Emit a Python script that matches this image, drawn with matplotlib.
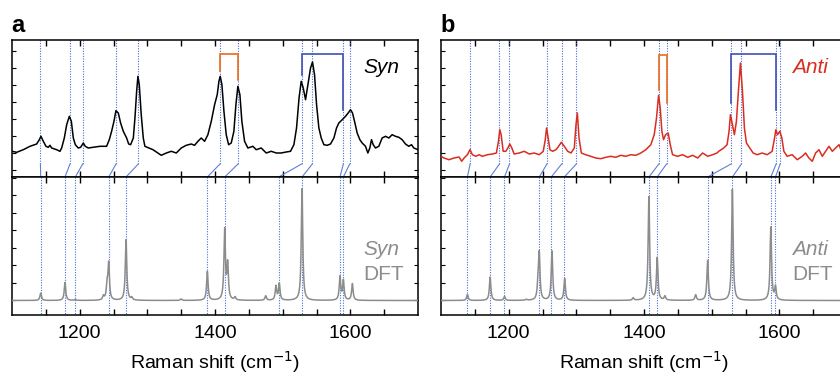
import numpy as np
import matplotlib
matplotlib.use("Agg")
import matplotlib.pyplot as plt

plt.rcParams['font.family'] = ['Liberation Sans', 'DejaVu Sans']

# experimental spectra (Raman shift, intensity in a.u.)
exp_a_x = [1100, 1106.9, 1116.7, 1126.6, 1136.4, 1140.4, 1142.8, 1146.3, 1150.2, 1153.6, 1156.1, 1158.6,
           1166, 1170.9, 1173.4, 1177.3, 1180.8, 1184.7, 1187.7, 1190.6, 1193.6, 1197.9, 1201.4, 1205.4,
           1208.3, 1212.7, 1220.1, 1230, 1239.8, 1243.8, 1247.2, 1250.7, 1253.6, 1257.1, 1260.5, 1264.5,
           1267, 1269.4, 1272.4, 1275.3, 1279.3, 1281.7, 1284.2, 1286.1, 1288.1, 1291, 1294, 1296.4, 1299.9,
           1308.3, 1315.7, 1320.6, 1328.1, 1335.4, 1342.8, 1350.1, 1357.5, 1364.9, 1369.8, 1374.8, 1379.7,
           1384.6, 1389.5, 1394.5, 1399.4, 1403.3, 1405.8, 1407.7, 1410.2, 1413.2, 1416.6, 1420.1, 1424,
           1427.9, 1430.9, 1433.8, 1436.8, 1439.7, 1443.7, 1448.6, 1456, 1460.9, 1468.3, 1475.7, 1483.1,
           1490.5, 1497.8, 1505.2, 1511.6, 1516.6, 1520.5, 1524.2, 1527.4, 1530.4, 1533.8, 1537.3, 1541.2,
           1544.1, 1547.1, 1550.1, 1553.5, 1557, 1560.9, 1565.8, 1570.7, 1575.7, 1579.6, 1583, 1588, 1592.9,
           1596.8, 1600.3, 1603.2, 1606.2, 1610.1, 1614.1, 1617.5, 1622.4, 1625.9, 1628.8, 1631.3, 1633.8,
           1637.2, 1642.1, 1647, 1652, 1656.9, 1661.8, 1666.7, 1671.7, 1676.6, 1681.5, 1686.4, 1690.4,
           1693.8, 1700]
exp_a_y = [25.7, 24.7, 27.3, 30.7, 33, 37.3, 40.7, 35.7, 30.7, 29.7, 31.7, 29,
           27.3, 25.7, 29, 39, 52.3, 60.7, 55.7, 39, 32.3, 29, 29.7, 34,
           30.7, 29, 29.7, 30.7, 30.7, 37.3, 45.7, 55.7, 66.3, 64, 54, 45.7,
           42.3, 39, 33, 32.3, 39, 59, 85.7, 100.7, 92.3, 62.3, 39, 30.7, 29.7,
           27.3, 24, 21.7, 24, 25.7, 24, 29, 31.7, 33, 31.7, 35.7, 39,
           35.7, 42.3, 55.7, 72.3, 82.3, 95.7, 100.7, 92.3, 65.7, 42.3, 32.3, 34,
           45.7, 72.3, 90.7, 82.3, 55.7, 35.7, 29, 30.7, 27.3, 29, 24, 25.7,
           24, 24, 25, 25.7, 32.3, 49, 79, 95.7, 89, 77.3, 92.3, 109,
           115, 102.3, 72.3, 49, 39, 32.3, 31.7, 33, 39, 49, 54, 57.3, 60.7,
           64, 67.3, 64, 55.7, 44, 37.3, 34, 30.7, 24, 29, 37.3, 32.3,
           29, 30.7, 39, 40.7, 39, 42.3, 40.7, 39.7, 37.3, 33, 30.7, 32.3,
           29, 27.3]

exp_b_x = [1100, 1104.4, 1111.9, 1119.3, 1126.7, 1130.6, 1134.1, 1139, 1142.9, 1146.4, 1151.4, 1156.3,
           1161.2, 1168.6, 1176, 1181.9, 1184.9, 1186.9, 1188.9, 1191.9, 1195.8, 1198.8, 1201.7, 1204.7,
           1208.1, 1215.6, 1223, 1230.4, 1237.8, 1245.2, 1251.1, 1254.1, 1256, 1258, 1261, 1264.9, 1269.9,
           1273.8, 1277.8, 1282.2, 1287.2, 1292.1, 1297, 1299.5, 1301.5, 1304, 1307.4, 1313.8, 1321.3,
           1328.7, 1336.1, 1343.5, 1350.9, 1358.3, 1365.7, 1373.1, 1380.5, 1387.9, 1395.3, 1402.7, 1410.1,
           1415.1, 1418.5, 1421.5, 1424, 1426.4, 1428.9, 1431.9, 1435.8, 1438.8, 1442.2, 1449.6, 1457,
           1464.5, 1471.9, 1479.3, 1486.7, 1494.1, 1501.5, 1507.9, 1510.4, 1517.8, 1522.8, 1525.7, 1527.7,
           1530.2, 1533.6, 1536.6, 1539.5, 1542.5, 1545.5, 1548.4, 1551.4, 1556.3, 1561.3, 1567.2, 1574.6,
           1582, 1589.4, 1592.9, 1594.9, 1597.3, 1600.8, 1603.7, 1606.7, 1611.6, 1619, 1626.5, 1633.9,
           1638.8, 1643.7, 1648.7, 1653.6, 1658.6, 1663.5, 1668.4, 1673.4, 1678.3, 1683.2, 1688.2, 1691,
           1700]
exp_b_y = [20.7, 19, 17.3, 19, 20, 15.7, 19, 22.3, 27.3, 22.3, 20.7, 22.3,
           20.7, 22.3, 23, 24, 35.7, 47.3, 42.3, 25.7, 25.7, 29, 33, 29,
           23, 24, 25.7, 23, 24, 22.3, 25.7, 37.3, 49, 40.7, 27.3, 25.7, 27.3,
           30.7, 34.7, 30.7, 25.7, 24, 29, 52.3, 64, 39, 24, 22.3, 20.7,
           19, 18.3, 19.7, 20.7, 19.7, 21.7, 20.7, 22.3, 21.7, 24, 27.3, 32.3,
           42.3, 59, 81.7, 69, 45.7, 37.3, 42.3, 44, 32.3, 22.3, 20.7, 22.3,
           19.7, 21.7, 19, 24, 20.7, 22.3, 24, 25.7, 29, 32.3, 45.7, 62.3,
           54, 42.3, 55.7, 85.7, 114, 85.7, 49, 34, 29, 24, 22.3, 24,
           22.3, 25.7, 39, 47.3, 42.3, 45.7, 39, 25.7, 20.7, 22.3, 17.3, 20.7,
           24, 19, 15.7, 24, 27.3, 20.7, 25.7, 30.7, 25.7, 29, 32.3, 27.3,
           28]

# DFT modes (position, relative intensity)
dft_a_pos = [1142.4, 1178.3, 1193.6, 1235, 1240.5, 1242.9, 1268.5, 1277, 1349.8, 1388.7, 1414.3, 1418.7,
             1429.6, 1474.9, 1490.1, 1495, 1528.6, 1584.7, 1589.7, 1603]
dft_a_int = [7.4, 18, 1, 4, 14, 36, 60.7, 2.5, 1.5, 29, 70, 35,
             3, 4.5, 14, 16.5, 111.7, 23.5, 19.5, 16.7]
dft_b_pos = [1139, 1172.6, 1193.8, 1226, 1243.5, 1245.2, 1264, 1282.7, 1384, 1407.2, 1419.5, 1430.9,
             1476.3, 1494, 1530.6, 1587.4, 1594.3]
dft_b_int = [6, 23.3, 4, 1, 15, 44, 49.3, 21.7, 2.5, 103.3, 42, 4,
             5.5, 40, 111, 73, 13]

# assignment lines: experiment -> DFT
exp_a_lines = [1142, 1185.7, 1204.4, 1253.7, 1286.7, 1407.4, 1434, 1528, 1543.8, 1589.7, 1599]
dft_a_lines = [1142.4, 1178.3, 1193.6, 1242.9, 1268.5, 1388.7, 1414.3, 1494.1, 1528.6, 1584.7, 1589.7]
exp_b_lines = [1143, 1186.4, 1201.2, 1256.5, 1278.3, 1300, 1422, 1433.3, 1528.6, 1544, 1595.3, 1601.2]
dft_b_lines = [1139, 1172.6, 1193.8, 1245.2, 1263, 1282.2, 1407.2, 1419.5, 1494, 1530.6, 1587.4, 1594.3]

# brackets: (x left, x right, top, left end, right end)
orange_a = (1407.4, 1434, 123, 105.7, 97.3)
blue_a = (1528, 1589.7, 123, 102.3, 67.3)
orange_b = (1422, 1433.3, 121.7, 87.3, 74)
blue_b = (1528.6, 1595.3, 123, 74, 67.3)

DOT = '#4a6fcf'
LINK = '#5f80d4'
ORANGE = '#ec6a1e'
BLUE = '#3f4fb5'
GRAY = '#8c8c8c'
RED = '#d92d20'


def dft_curve(x, pos, inten, w=2.6, base=14.5):
    y = np.full_like(x, base)
    for p, i in zip(pos, inten):
        y += i * (w / 2) ** 2 / ((x - p) ** 2 + (w / 2) ** 2)
    return y


def style_axes(ax, labels):
    ax.set_xlim(1100, 1700)
    ax.set_xticks([1200, 1400, 1600])
    ax.set_xticks(np.arange(1150, 1700, 50), minor=True)
    ax.tick_params(which='both', direction='in', top=True, right=True, length=4, width=1.0,
                   labelsize=14, pad=7)
    ax.tick_params(axis='y', which='both', left=True, right=True, length=3, width=0.8,
                   labelleft=False)
    if not labels:
        ax.tick_params(axis='x', labelbottom=False)
    for s in ax.spines.values():
        s.set_linewidth(1.1)


def bracket(ax, b, color):
    x0, x1, top, y0, y1 = b
    ax.plot([x0, x0, x1, x1], [y0, top, top, y1], color=color, lw=1.2, solid_joinstyle='miter')


def panel(x0, exp_x, exp_y, color, name, dft_pos, dft_int, exp_lines, dft_lines, br_o, br_b, letter):
    W, H = 840, 374
    top = fig.add_axes([x0 / W, (H - 177) / H, 406 / W, 137 / H])
    bot = fig.add_axes([x0 / W, (H - 315) / H, 406 / W, 138 / H])

    top.plot(exp_x, exp_y, color=color, lw=1.1, zorder=3)
    top.set_ylim(0, 137)
    top.set_yticks(np.arange(7, 137, 17))
    style_axes(top, False)

    xx = np.linspace(1100, 1700, 6001)
    bot.plot(xx, dft_curve(xx, dft_pos, dft_int), color=GRAY, lw=1.1, zorder=3)
    bot.set_ylim(0, 138)
    bot.set_yticks(np.arange(15, 138, 17.5))
    style_axes(bot, True)
    bot.set_xlabel('Raman shift (cm$^{-1}$)', fontsize=14, labelpad=5)

    # peak assignments: dotted in each panel, solid link across the border
    for xe, xd in zip(exp_lines, dft_lines):
        top.plot([xe, xe], [137, 13], color=DOT, lw=0.8, ls=(0, (1, 1.3)), zorder=2)
        top.plot([xe, xd], [13, 0], color=LINK, lw=0.8, clip_on=False, zorder=2)
        bot.plot([xd, xd], [138, 0], color=DOT, lw=0.8, ls=(0, (1, 1.3)), zorder=2)

    bracket(top, br_o, ORANGE)
    bracket(top, br_b, BLUE)

    fig.text((x0 + 351) / W, (H - 73) / H, name, color=color, fontsize=15, style='italic')
    fig.text((x0 + 351) / W, (H - 255) / H, name, color=GRAY, fontsize=15, style='italic')
    fig.text((x0 + 351) / W, (H - 280) / H, 'DFT', color=GRAY, fontsize=15)
    fig.text((x0 - 1) / W, (H - 32) / H, letter, fontsize=17, fontweight='bold')


fig = plt.figure(figsize=(8.4, 3.74), dpi=100)
panel(12, exp_a_x, exp_a_y, 'black', 'Syn', dft_a_pos, dft_a_int, exp_a_lines, dft_a_lines,
      orange_a, blue_a, 'a')
panel(441, exp_b_x, exp_b_y, RED, 'Anti', dft_b_pos, dft_b_int, exp_b_lines, dft_b_lines,
      orange_b, blue_b, 'b')

fig.savefig('out.png', dpi=100)
